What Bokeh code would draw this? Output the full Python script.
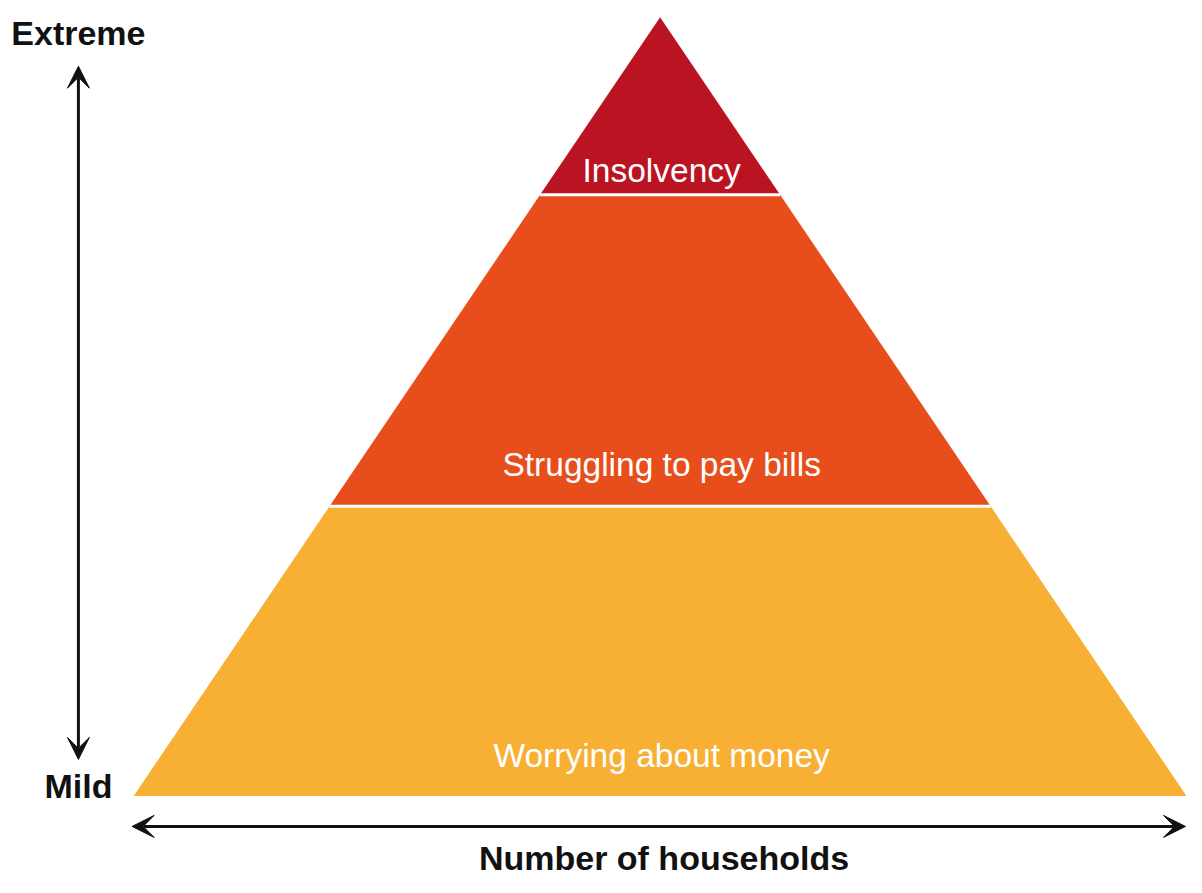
from bokeh.plotting import figure
from bokeh.models import Range1d, ColumnDataSource, Arrow, VeeHead
from bokeh.core.properties import value
from bokeh.embed import file_html
from bokeh.resources import INLINE

# ---- data ----
levels = ["Worrying about money", "Struggling to pay bills", "Insolvency"]
level_bottom = [0.0, 0.372, 0.772]   # severity (share of pyramid height)
level_top = [0.372, 0.772, 1.0]
level_colors = ["#F7B033", "#E84E1B", "#BA1422"]
y_axis_top_label = "Extreme"
y_axis_bottom_label = "Mild"
x_axis_label = "Number of households"

FONT = "Liberation Sans"
INK = "#111111"

p = figure(width=1186, height=877, output_backend="svg", toolbar_location=None,
           x_range=Range1d(-1.253, 1.0), y_range=Range1d(-0.1047, 1.0214),
           min_border=0)
p.axis.visible = False
p.grid.visible = False
p.outline_line_color = None
p.background_fill_color = "white"

xs, ys = [], []
for b, t in zip(level_bottom, level_top):
    hb, ht = 1 - b, 1 - t
    xs.append([-hb, hb, ht, -ht])
    ys.append([b, b, t, t])
src = ColumnDataSource(dict(xs=xs, ys=ys, color=level_colors))
p.patches("xs", "ys", fill_color="color", line_color=None, source=src)

# white separators between levels
sx0 = [-(1 - b) for b in level_bottom[1:]]
sx1 = [(1 - b) for b in level_bottom[1:]]
p.segment(x0=sx0, y0=level_bottom[1:], x1=sx1, y1=level_bottom[1:],
          line_color="white", line_width=3)

# labels inside levels
lab = ColumnDataSource(dict(x=[0.003, 0.003, 0.003], y=level_bottom, text=levels,
                            yoff=[-22.3, -23.3, -5.6]))
p.text(x="x", y="y", text="text", y_offset="yoff", source=lab,
       text_color="white", text_font=value(FONT), text_font_size="33.5px",
       text_align="center", text_baseline="bottom")

head = dict(size=22, fill_color=INK, line_color=INK)

# severity arrow
ax = -1.105
p.add_layout(Arrow(x_start=ax, y_start=0.047, x_end=ax, y_end=0.937,
                   line_width=3, line_color=INK,
                   end=VeeHead(**head), start=VeeHead(**head)))
p.text(x=[ax], y=[0.9555], text=[y_axis_top_label],
       text_color=INK, text_font=value(FONT), text_font_size="34px",
       text_font_style="bold", text_align="center", text_baseline="bottom")
p.text(x=[ax], y=[-0.0117], text=[y_axis_bottom_label],
       text_color=INK, text_font=value(FONT), text_font_size="34px",
       text_font_style="bold", text_align="center", text_baseline="bottom")

# households arrow
p.add_layout(Arrow(x_start=-1.003, y_start=-0.0391, x_end=0.998, y_end=-0.0391,
                   line_width=3, line_color=INK,
                   end=VeeHead(**head), start=VeeHead(**head)))
p.text(x=[0.0075], y=[-0.1038], text=[x_axis_label],
       text_color=INK, text_font=value(FONT), text_font_size="34px",
       text_font_style="bold", text_align="center", text_baseline="bottom")

open("out.html", "w").write(file_html(p, INLINE))
